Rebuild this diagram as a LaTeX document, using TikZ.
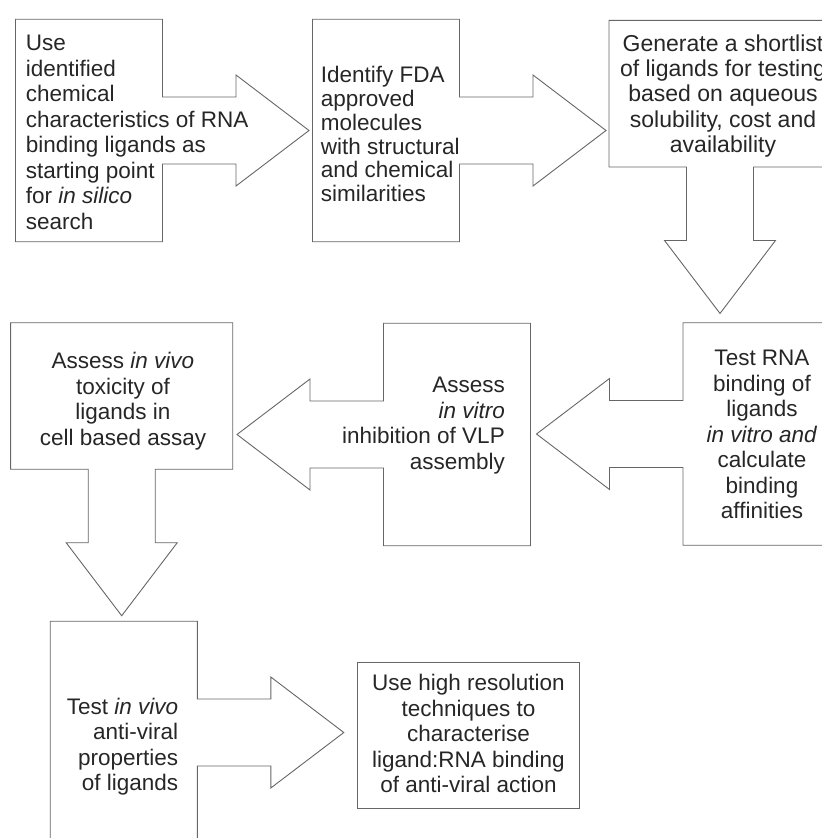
\documentclass[tikz,border=0pt]{standalone}
\usepackage{fontspec}
\setmainfont{Liberation Sans}
\usetikzlibrary{calc}
\definecolor{edgegray}{HTML}{666666}
\definecolor{inkgray}{HTML}{262626}

\begin{document}
\begin{tikzpicture}[x=1bp, y=-1bp,
        frame/.style={draw=edgegray, line width=0.9bp},
        tallbox/.style={inner sep=0pt, outer sep=0pt, minimum width=147bp, minimum height=222.5bp},
        widebox/.style={inner sep=0pt, outer sep=0pt, minimum width=222bp, minimum height=146.5bp},
        steptext/.style={inner sep=0pt, text=inkgray, font=\fontsize{22.5bp}{25.5bp}\selectfont}]
                        \useasboundingbox (0,0) rectangle (822,838);
                        \clip (0,0) rectangle (822,838);

                        \node[tallbox] (use) at (89,130.5) {};
                        \node[tallbox] (fda) at (386,130.5) {};
                        \node[widebox] (list) at (720,93.7) {};
                        \node[tallbox] (rna) at (756.5,434) {};
                        \node[tallbox] (vlp) at (457,434.5) {};
                        \node[widebox] (tox) at (121.7,396) {};
                        \node[tallbox] (vivo) at (123.8,732.5) {};
                        \node[widebox, frame] (hires) at (468.5,735.2) {};

                        \draw[frame] (use.north west) -- (use.north east) -- ($(use.east)+(0,-33.5)$)
                            -- ++(73.5,0) -- ++(0,-22) -- ($(use.east)+(146.5,0)$) -- ++(-73,55.5) -- ++(0,-22)
                            -- ($(use.east)+(0,33.5)$) -- (use.south east) -- (use.south west) -- cycle;
                        \draw[frame] (fda.north west) -- (fda.north east) -- ($(fda.east)+(0,-33.5)$)
                            -- ++(73.5,0) -- ++(0,-22) -- ($(fda.east)+(146.5,0)$) -- ++(-73,55.5) -- ++(0,-22)
                            -- ($(fda.east)+(0,33.5)$) -- (fda.south east) -- (fda.south west) -- cycle;
                        \draw[frame] (list.north west) -- (list.north east) -- (list.south east) -- ($(list.south)+(33.5,0)$)
                            -- ++(0,73.5) -- ++(22,0) -- ($(list.south)+(0,146.5)$) -- ++(-55.5,-73) -- ++(22,0)
                            -- ($(list.south)+(-33.5,0)$) -- (list.south west) -- cycle;
                        \draw[frame] (rna.north east) -- (rna.north west) -- ($(rna.west)+(0,-33.5)$)
                            -- ++(-73.5,0) -- ++(0,-22) -- ($(rna.west)+(-146.5,0)$) -- ++(73,55.5) -- ++(0,-22)
                            -- ($(rna.west)+(0,33.5)$) -- (rna.south west) -- (rna.south east) -- cycle;
                        \draw[frame] (vlp.north east) -- (vlp.north west) -- ($(vlp.west)+(0,-33.5)$)
                            -- ++(-73.5,0) -- ++(0,-22) -- ($(vlp.west)+(-146.5,0)$) -- ++(73,55.5) -- ++(0,-22)
                            -- ($(vlp.west)+(0,33.5)$) -- (vlp.south west) -- (vlp.south east) -- cycle;
                        \draw[frame] (tox.north west) -- (tox.north east) -- (tox.south east) -- ($(tox.south)+(33.5,0)$)
                            -- ++(0,73.5) -- ++(22,0) -- ($(tox.south)+(0,146.5)$) -- ++(-55.5,-73) -- ++(22,0)
                            -- ($(tox.south)+(-33.5,0)$) -- (tox.south west) -- cycle;
                        \draw[frame] (vivo.north west) -- (vivo.north east) -- ($(vivo.east)+(0,-33.5)$)
                            -- ++(73.5,0) -- ++(0,-22) -- ($(vivo.east)+(146.5,0)$) -- ++(-73,55.5) -- ++(0,-22)
                            -- ($(vivo.east)+(0,33.5)$) -- (vivo.south east) -- (vivo.south west) -- cycle;

                        \node[steptext, align=left, anchor=base west] (usetext) at (25.7,229)
                            {Use\\identified\\chemical\\characteristics of RNA\\binding ligands as\\starting point\\for \textit{in silico}\\search};
                        \node[steptext, align=left, anchor=base west, font=\fontsize{22.5bp}{23.8bp}\selectfont] (fdatext) at (320.7,201.7)
                            {Identify FDA\\approved\\molecules\\with structural\\and chemical\\similarities};
                        \node[steptext, align=center, anchor=base, font=\fontsize{23bp}{25.3bp}\selectfont] (listtext) at (723,152.5)
                            {Generate a shortlist\\of ligands for testing\\based on aqueous\\solubility, cost and\\availability};
                        \node[steptext, align=center, anchor=base] (rnatext) at (762,518.5)
                            {Test RNA\\binding of\\ligands\\\textit{in vitro and}\\calculate\\binding\\affinities};
                        \node[steptext, align=right, anchor=base east] (vlptext) at (505,469)
                            {Assess\\\textit{in vitro}\\inhibition of VLP\\assembly};
                        \node[steptext, align=center, anchor=base] (toxtext) at (123,445)
                            {Assess \textit{in vivo}\\toxicity of\\ligands in\\cell based assay};
                        \node[steptext, align=right, anchor=base east] (vivotext) at (178.3,790.8)
                            {Test \textit{in vivo}\\anti-viral\\properties\\of ligands};
                        \node[steptext, align=center, anchor=base] (hirestext) at (468.5,792.7)
                            {Use high resolution\\techniques to\\characterise\\ligand:RNA binding\\of anti-viral action};
                    \end{tikzpicture}
\end{document}
